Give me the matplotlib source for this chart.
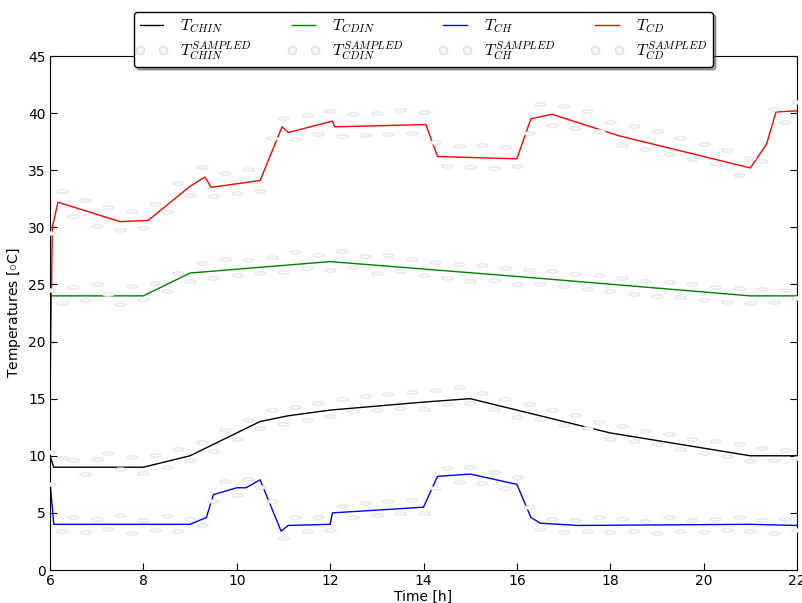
import matplotlib
matplotlib.use("Agg")
import matplotlib.pyplot as plt
from matplotlib.path import Path
from matplotlib.transforms import Affine2D
from matplotlib.lines import Line2D
from matplotlib.legend_handler import HandlerLine2D

plt.rcParams['mathtext.fontset'] = 'cm'
plt.rcParams['font.family'] = ['DejaVu Sans']

# ---- model lines (knots) ----
t_chin = [6.0, 6.08, 8.0, 9.0, 10.5, 11.1, 12.0, 14.0, 15.0, 16.0, 18.0, 21.0, 22.0]
T_chin = [10.0, 9.0, 9.0, 10.0, 13.0, 13.5, 14.0, 14.7, 15.0, 14.0, 12.0, 10.0, 10.0]

t_cdin = [6.0, 6.08, 8.0, 9.0, 12.0, 16.0, 21.0, 22.0]
T_cdin = [24.0, 24.0, 24.0, 26.0, 27.0, 25.7, 24.0, 24.0]

t_ch = [6.0, 6.08, 9.0, 9.35, 9.5, 10.0, 10.2, 10.5, 10.95, 11.1, 12.0, 12.05,
        14.0, 14.3, 15.0, 16.0, 16.3, 16.5, 17.3, 21.0, 22.0]
T_ch = [7.8, 4.0, 4.0, 4.6, 6.6, 7.2, 7.2, 7.9, 3.4, 3.9, 4.0, 5.0,
        5.5, 8.2, 8.4, 7.5, 4.6, 4.1, 3.9, 4.0, 3.9]

t_cd = [6.0, 6.05, 6.17, 7.5, 8.1, 9.0, 9.32, 9.45, 10.5, 10.97, 11.1, 12.05, 12.1,
        14.05, 14.3, 16.0, 16.3, 16.75, 18.2, 21.0, 21.35, 21.55, 22.0]
T_cd = [15.0, 30.0, 32.2, 30.5, 30.6, 33.6, 34.4, 33.5, 34.1, 38.8, 38.3, 39.3, 38.8,
        39.0, 36.2, 36.0, 39.5, 39.9, 38.0, 35.2, 37.3, 40.1, 40.2]

# ---- sampled data (every 0.25 h from 6 to 22) ----
t_s = [6.0 + 0.25 * i for i in range(65)]
S_chin = [10.3, 9.8, 9.6, 8.4, 9.7, 10.2, 8.8, 9.9, 8.5, 10.1, 9.0, 10.6, 9.6, 11.2, 10.4, 12.3,
          11.5, 13.1, 12.4, 14.0, 12.8, 14.3, 13.1, 14.6, 13.5, 15.0, 13.9, 15.2, 14.0, 15.4,
          14.2, 15.6, 14.1, 15.8, 14.5, 16.0, 14.6, 15.5, 14.1, 15.0, 13.4, 14.5, 13.2, 14.0,
          12.7, 13.6, 12.4, 13.0, 11.5, 12.6, 11.3, 12.2, 11.0, 11.9, 10.6, 11.5, 10.2, 11.3,
          10.0, 11.0, 9.5, 10.7, 9.6, 10.5, 9.8]
S_cdin = [24.5, 23.4, 24.8, 23.6, 25.0, 24.2, 23.3, 24.9, 23.7, 25.1, 24.4, 26.0, 25.3, 26.9,
          25.6, 27.2, 25.8, 27.1, 26.0, 27.4, 26.1, 27.8, 26.4, 27.6, 26.3, 27.9, 26.5, 27.5,
          26.0, 27.6, 26.2, 27.2, 25.8, 27.0, 25.6, 26.8, 25.3, 26.7, 25.4, 26.4, 25.0, 26.3,
          25.0, 26.2, 24.9, 25.9, 24.6, 25.8, 24.4, 25.6, 24.2, 25.3, 24.0, 25.2, 23.9, 25.0,
          23.6, 24.8, 23.5, 24.7, 23.4, 24.6, 23.5, 24.5, 23.8]
S_ch = [7.5, 3.4, 4.6, 3.3, 4.5, 3.6, 4.8, 3.2, 4.4, 3.5, 4.7, 3.4, 4.5, 3.9, 6.0, 7.8, 6.6,
        8.0, 7.3, 6.0, 2.8, 4.6, 3.4, 4.6, 3.5, 5.6, 4.6, 5.9, 4.8, 6.0, 5.0, 6.1, 5.0, 7.2,
        8.9, 7.7, 9.0, 7.6, 8.6, 7.2, 8.1, 5.5, 3.6, 4.5, 3.3, 4.4, 3.4, 4.6, 3.3, 4.5, 3.4,
        4.3, 3.2, 4.6, 3.4, 4.4, 3.3, 4.5, 3.5, 4.6, 3.4, 4.4, 3.2, 4.5, 3.5]
S_cd = [29.5, 33.2, 31.0, 32.4, 30.1, 31.8, 29.8, 31.4, 29.9, 32.0, 31.3, 33.9, 32.8, 35.3,
        32.7, 34.8, 33.0, 35.1, 33.2, 37.8, 39.6, 37.7, 39.8, 38.2, 40.2, 38.0, 39.9, 38.1,
        40.0, 38.2, 40.3, 38.3, 40.1, 37.5, 35.4, 37.1, 35.3, 37.2, 35.2, 37.0, 35.4, 38.3,
        40.8, 39.0, 40.6, 38.7, 40.2, 38.4, 39.2, 37.2, 38.9, 36.9, 38.4, 36.4, 37.8, 36.0,
        37.3, 35.6, 36.8, 34.6, 36.1, 35.8, 40.4, 39.2, 41.0]

line_labels = [r'$T_{CHIN}$', r'$T_{CDIN}$', r'$T_{CH}$', r'$T_{CD}$']
samp_labels = [r'$T_{CHIN}^{SAMPLED}$', r'$T_{CDIN}^{SAMPLED}$',
               r'$T_{CH}^{SAMPLED}$', r'$T_{CD}^{SAMPLED}$']
colors = ['k', (0, 0.5, 0), (0, 0, 1), (1, 0, 0)]

lines_t = [t_chin, t_cdin, t_ch, t_cd]
lines_T = [T_chin, T_cdin, T_ch, T_cd]
samples = [S_chin, S_cdin, S_ch, S_cd]

fig = plt.figure(figsize=(8.03, 6.03), dpi=100)
ax = fig.add_axes([50 / 803, 33 / 603, 747 / 803, 514 / 603])

ell = Path.unit_circle().transformed(Affine2D().scale(1.0, 0.3))

handles = []
hmap = {}
for tt, TT, S, c, ll, sl in zip(lines_t, lines_T, samples, colors, line_labels, samp_labels):
    h1, = ax.plot(tt, TT, color=c, lw=1.0, zorder=2, label=ll)
    ax.plot(t_s, S, linestyle='none', marker=ell, markersize=8,
            mfc='#fafafa', mec='#e4e4e4', mew=0.8, zorder=3)
    h2 = Line2D([], [], linestyle='none', marker='o', markersize=6,
                mfc='#f6f6f6', mec='#e0e0e0', mew=1.0, label=sl)
    hmap[h2] = HandlerLine2D(marker_pad=0.0, numpoints=2)
    handles += [h1, h2]

ax.set_xlim(6, 22)
ax.set_ylim(0, 45)
ax.set_xticks(range(6, 23, 2))
ax.set_yticks(range(0, 46, 5))
ax.tick_params(direction='in', top=True, right=True, labelsize=10, length=5, pad=3)
ax.set_xlabel('Time [h]', fontsize=10, labelpad=1)
ax.set_ylabel(r'Temperatures [$\circ$C]', fontsize=10)

leg = ax.legend(handles=handles, handler_map=hmap, ncol=4, loc='upper center',
                bbox_to_anchor=(0.5, 1.0 + 44 / 514), borderaxespad=0.0,
                fontsize=11.5, frameon=True, fancybox=True, shadow=True,
                handlelength=1.45, columnspacing=2.5, borderpad=0.35,
                labelspacing=0.22, handletextpad=1.1)
leg.get_frame().set_edgecolor('k')
leg.get_frame().set_linewidth(1.0)

fig.savefig('out.png', dpi=100)
